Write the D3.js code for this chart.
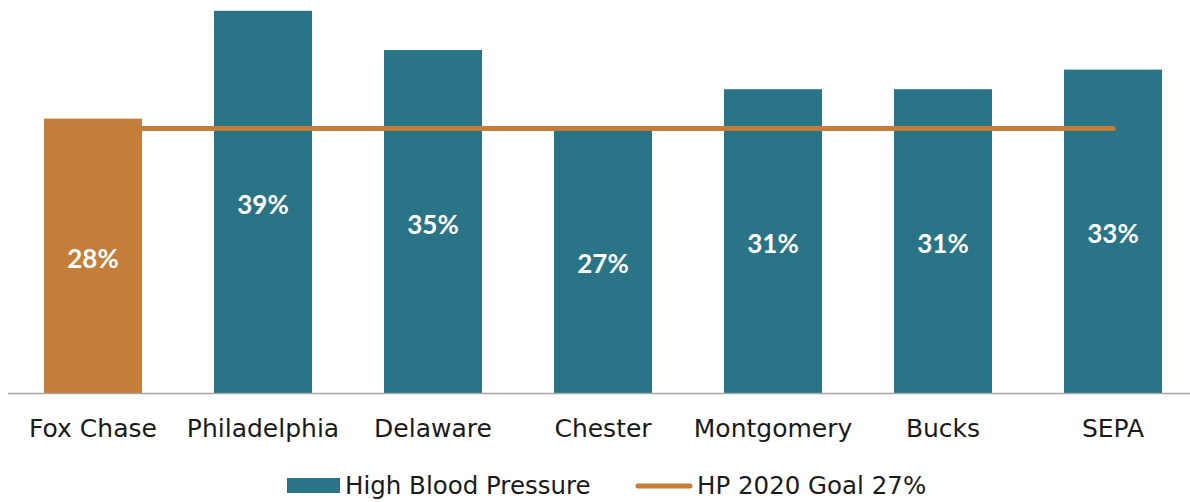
<!DOCTYPE html>
<html><head><meta charset="utf-8">
<script src="https://cdn.jsdelivr.net/npm/d3@7"></script>
<style>html,body{margin:0;padding:0;background:#fff;}svg{display:block;}</style>
</head><body>
<svg id="chart" width="1190" height="502"></svg>
<script>
const categories = ["Fox Chase","Philadelphia","Delaware","Chester","Montgomery","Bucks","SEPA"];
const highBloodPressure = [28,39,35,27,31,31,33];
const goalValue = 27;
const seriesNames = ["High Blood Pressure","HP 2020 Goal 27%"];

const W = 1190, H = 502;
const teal = "#2A7487", orange = "#C57D3A";
const font = "DejaVu Sans, sans-serif";
const svg = d3.select("#chart");

const x = d3.scaleBand().domain(categories).range([8, 1198]).paddingInner(0.4235).paddingOuter(0.21175);
const y = d3.scaleLinear().domain([0, 40]).range([393, 1]);

svg.append("g").selectAll("rect").data(categories).join("rect")
  .attr("x", d => x(d)).attr("width", x.bandwidth())
  .attr("y", (d,i) => y(highBloodPressure[i]))
  .attr("height", (d,i) => y(0) - y(highBloodPressure[i]))
  .attr("fill", (d,i) => i === 0 ? orange : teal);

svg.append("line").attr("x1", 8).attr("x2", 1198).attr("y1", y(0)+0.5).attr("y2", y(0)+0.5)
  .attr("stroke", "#A6A6A6").attr("stroke-width", 1.5);

const line = d3.line().x(d => x(d) + x.bandwidth()/2).y(() => y(goalValue));
svg.append("path").datum(categories).attr("d", line)
  .attr("fill","none").attr("stroke", orange).attr("stroke-width", 5).attr("stroke-linecap","round");

svg.append("g").selectAll("text").data(categories).join("text")
  .attr("x", d => x(d) + x.bandwidth()/2)
  .attr("y", (d,i) => (y(highBloodPressure[i]) + y(0))/2 + 12)
  .attr("text-anchor","middle")
  .attr("fill","#fff").attr("font-family", "Lato, DejaVu Sans, sans-serif").attr("font-weight","bold").attr("font-size", 26)
  .text((d,i) => highBloodPressure[i] + "%");

const xAxis = d3.axisBottom(x).tickSize(0).tickPadding(0);
const gx = svg.append("g").attr("transform", `translate(0,${y(0)})`).call(xAxis);
gx.select(".domain").remove();
gx.selectAll("text").attr("font-family", font).attr("font-size", 25).attr("fill","#1a1a1a")
  .attr("dy", null).attr("y", 44);

// legend
const lg = svg.append("g");
lg.append("rect").attr("x", 287).attr("y", 478).attr("width", 53).attr("height", 15).attr("fill", teal);
lg.append("text").attr("x", 345).attr("y", 494).attr("font-family", font).attr("font-size", 24.5).attr("fill","#1a1a1a").text(seriesNames[0]);
lg.append("line").attr("x1", 638).attr("x2", 690).attr("y1", 486).attr("y2", 486)
  .attr("stroke", orange).attr("stroke-width", 5).attr("stroke-linecap","round");
lg.append("text").attr("x", 697).attr("y", 494).attr("font-family", font).attr("font-size", 24.5).attr("fill","#1a1a1a").text(seriesNames[1]);
</script>
</body></html>
